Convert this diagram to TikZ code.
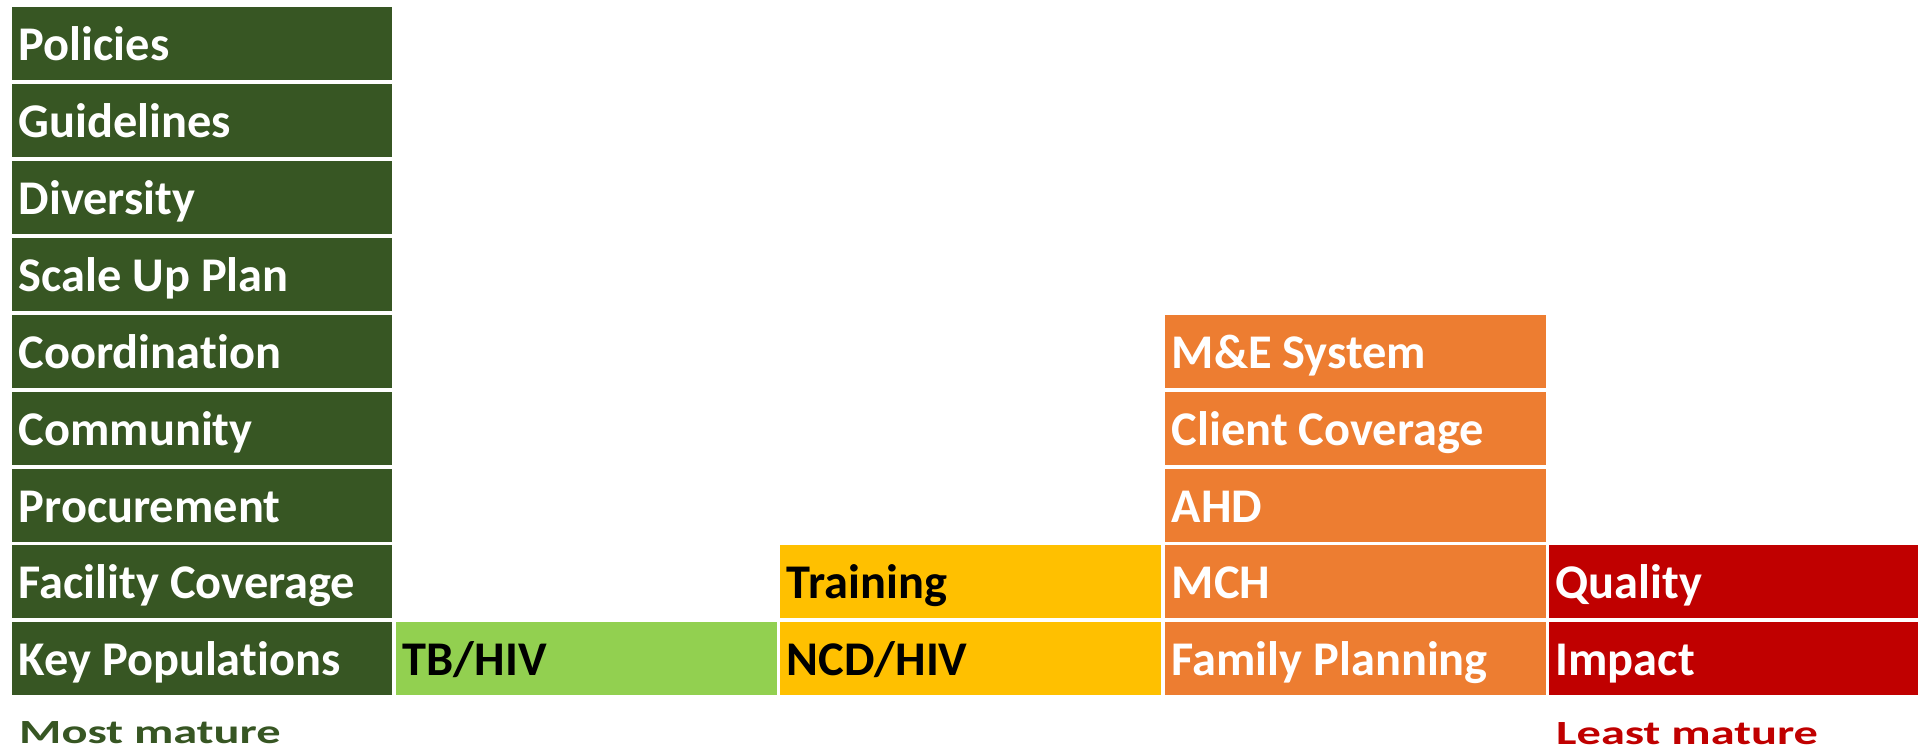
\documentclass[tikz,border=0pt]{standalone}
\usepackage{fontspec}
\setmainfont{Carlito}[Ligatures=NoCommon]
\definecolor{dgreen}{HTML}{375623}
\definecolor{lgreen}{HTML}{92D050}
\definecolor{myyellow}{HTML}{FFC000}
\definecolor{myorange}{HTML}{ED7D31}
\definecolor{myred}{HTML}{C00000}
\newcommand{\squash}[1]{\scalebox{1}[0.7]{#1}}
\tikzset{
  cell/.style={anchor=north west, inner xsep=6.5pt, inner ysep=0pt, minimum height=72.5pt,
    text height=35pt, text depth=0pt, align=flush left,
    font=\bfseries\fontsize{48.4}{58}\selectfont},
  gcell/.style={cell, fill=dgreen, text=white, text width=367pt},
  lcell/.style={cell, fill=lgreen, text=black, text width=368pt},
  ycell/.style={cell, fill=myyellow, text=black, text width=368pt},
  ocell/.style={cell, fill=myorange, text=white, text width=368pt},
  rcell/.style={cell, fill=myred, text=white, text width=356pt},
  legend/.style={anchor=base west, inner sep=0pt, font=\bfseries\fontsize{48.4}{58}\selectfont}
}
\begin{document}
\begin{tikzpicture}[x=1pt,y=-1pt]
\useasboundingbox[fill=white] (0,0) rectangle (1918,753);
% Most mature column
\node[gcell] (g1) at (12,7) {Policies};
\node[gcell] (g2) at (12,84) {Guidelines};
\node[gcell] (g3) at (12,161) {Diversity};
\node[gcell] (g4) at (12,238) {Scale Up Plan};
\node[gcell] (g5) at (12,315) {Coordination};
\node[gcell] (g6) at (12,392) {Community};
\node[gcell] (g7) at (12,469) {Procurement};
\node[gcell] (g8) at (12,545) {Facility Coverage};
\node[gcell] (g9) at (12,622) {Key Populations};
% light green
\node[lcell] (l1) at (396,622) {TB/HIV};
% yellow
\node[ycell] (y1) at (780,545) {Training};
\node[ycell] (y2) at (780,622) {NCD/HIV};
% orange
\node[ocell] (o1) at (1165,315) {M\&E System};
\node[ocell] (o2) at (1165,392) {Client Coverage};
\node[ocell] (o3) at (1165,469) {AHD};
\node[ocell] (o4) at (1165,545) {MCH};
\node[ocell] (o5) at (1165,622) {Family Planning};
% red
\node[rcell] (r1) at (1549,545) {Quality};
\node[rcell] (r2) at (1549,622) {Impact};
% legend
\node[legend, text=dgreen] (most) at (19,743) {\squash{Most mature}};
\node[legend, text=myred] (least) at (1556,744) {\squash{Least mature}};
\end{tikzpicture}
\end{document}
